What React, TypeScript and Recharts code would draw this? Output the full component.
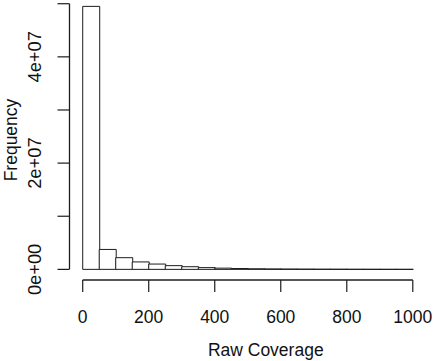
import React from 'react';
import { ComposedChart, Bar, XAxis, YAxis, ReferenceLine, Label } from 'recharts';

// histogram bins of width 50 over raw coverage 0..1000
const binStarts = [0, 50, 100, 150, 200, 250, 300, 350, 400, 450, 500, 550, 600, 650, 700, 750, 800, 850, 900, 950];
const frequency = [
  49500000, 3750000, 2200000, 1400000, 1000000, 700000, 500000, 330000, 230000, 160000,
  110000, 80000, 60000, 45000, 35000, 27000, 20000, 15000, 11000, 8000,
];
const xTicks = [0, 200, 400, 600, 800, 1000];
const yTicks = [0, 10000000, 20000000, 30000000, 40000000, 50000000];
const yTickLabels = ['0e+00', '', '2e+07', '', '4e+07', ''];

const data = binStarts.map((start, i) => ({ mid: start + 25, freq: frequency[i] }));

const ink = '#1c1c1c';
const font = '"Liberation Sans", Arial, sans-serif';
const fontSize = 17.5;

const XTick = (props: any) => {
  const { x, y, payload } = props;
  return (
    <g>
      <line x1={x} y1={y} x2={x} y2={y + 12} stroke={ink} strokeWidth={1.2} />
      <text x={x} y={y + 43} textAnchor="middle" fontFamily={font} fontSize={fontSize} fill="#111">
        {payload.value}
      </text>
    </g>
  );
};

const YTick = (props: any) => {
  const { x, y, payload, index } = props;
  const label = yTickLabels[index];
  const tx = x - 35;
  return (
    <g>
      <line x1={x} y1={y} x2={x - 12} y2={y} stroke={ink} strokeWidth={1.2} />
      {label && (
        <text
          x={tx}
          y={y}
          dy="0.35em"
          textAnchor="middle"
          transform={`rotate(-90, ${tx}, ${y})`}
          fontFamily={font}
          fontSize={18.3}
          fill="#111"
        >
          {label}
        </text>
      )}
    </g>
  );
};

export default function App() {
  return (
    <div style={{ position: 'absolute', left: 0, top: 0, background: '#fff' }}>
      <ComposedChart
        width={435}
        height={361}
        data={data}
        margin={{ top: 0, right: 9, left: 0, bottom: 0 }}
        barCategoryGap={0}
        barGap={0}
      >
        <XAxis
          dataKey="mid"
          type="number"
          domain={[-40, 1040]}
          ticks={xTicks}
          interval={0}
          height={81}
          axisLine={false}
          tickLine={false}
          tickSize={0}
          tickMargin={0}
          tick={<XTick />}
        >
          <Label
            content={(p: any) => {
              const vb = p.viewBox;
              return (
                <text
                  x={vb.x + vb.width / 2 + 18}
                  y={vb.y + 76}
                  textAnchor="middle"
                  fontFamily={font}
                  fontSize={fontSize}
                  fill="#111"
                >
                  Raw Coverage
                </text>
              );
            }}
          />
        </XAxis>
        <YAxis
          type="number"
          domain={[-2000000, 50700000]}
          ticks={yTicks}
          interval={0}
          width={69.5}
          axisLine={false}
          tickLine={false}
          tickSize={0}
          tickMargin={0}
          tick={<YTick />}
        >
          <Label
            content={(p: any) => {
              const vb = p.viewBox;
              const cx = 11;
              const cy = vb.y + vb.height / 2;
              return (
                <text
                  x={cx}
                  y={cy}
                  dy="0.35em"
                  textAnchor="middle"
                  transform={`rotate(-90, ${cx}, ${cy})`}
                  fontFamily={font}
                  fontSize={fontSize}
                  fill="#111"
                >
                  Frequency
                </text>
              );
            }}
          />
        </YAxis>
        <ReferenceLine
          segment={[{ x: -40, y: 0 }, { x: -40, y: 50000000 }]}
          stroke={ink}
          strokeWidth={1.3}
          ifOverflow="visible"
        />
        <ReferenceLine
          segment={[{ x: 0, y: -2000000 }, { x: 1000, y: -2000000 }]}
          stroke={ink}
          strokeWidth={1.3}
          ifOverflow="visible"
        />
        <Bar dataKey="freq" fill="#fff" stroke={ink} strokeWidth={1} isAnimationActive={false} />
      </ComposedChart>
    </div>
  );
}
